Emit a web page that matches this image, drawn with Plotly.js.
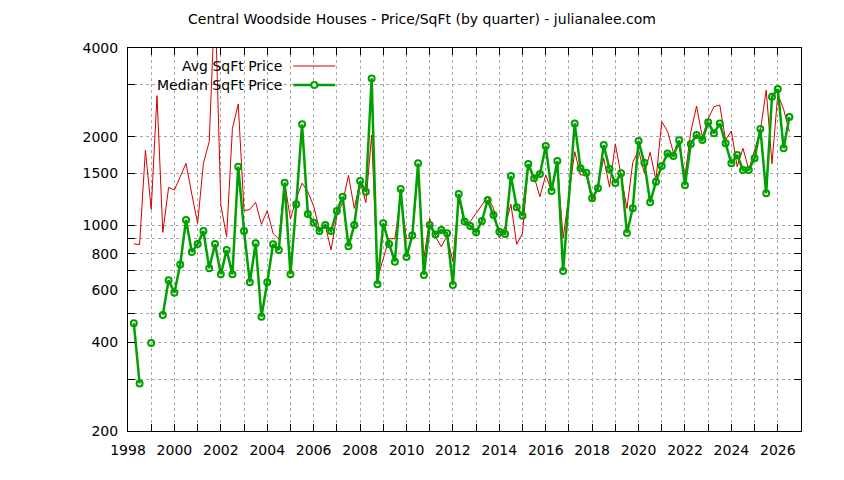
<!DOCTYPE html>
<html>
<head>
<meta charset="utf-8">
<script src="https://cdn.plot.ly/plotly-3.0.1.min.js"></script>
<style>
  html, body { margin: 0; padding: 0; background: #ffffff; }
  #chart { width: 844px; height: 480px; }
</style>
</head>
<body>
<div id="chart"></div>
<script>
// Quarterly data, Q1 1998 .. Q2 2026 (each quarter plotted at its end: Q1 -> year + 0.25)
const firstYear = 1998;
const quarterStep = 0.25;

// Average price per square foot (one value per quarter)
const avgPrice = [
  864, 860, 1801, 1132,      // 1998
  2755, 946, 1345, 1318,     // 1999
  1462, 1623, 1274, 1015,    // 2000
  1623, 1923, 6000, 1172,    // 2001
  914, 2134, 2581, 1121,     // 2002
  1131, 1196, 1007, 1120,    // 2003
  939, 896, 1395, 1050,      // 2004
  1230, 1390, 1300, 1160,    // 2005
  970, 1000, 824, 1077,      // 2006
  1195, 1477, 1141, 1406,    // 2007
  1195, 2025, 660, 775,      // 2008
  900, 900, 1250, 900,       // 2009
  905, 1521, 772, 1055,      // 2010
  914, 845, 922, 752,        // 2011
  1234, 1015, 1029, 1098,    // 2012
  1172, 1250, 1141, 903,     // 2013
  989, 1178, 861, 939,       // 2014
  1614, 1460, 1250, 1481,    // 2015
  1307, 1623, 903, null,     // 2016 (Q4: no row)
  1778, 1481, 1481, 1202,    // 2017
  1370, 1688, 1347, 1890,    // 2018
  1480, 1141, 1634, 1800,    // 2019
  1501, 1768, 1424, 2248,    // 2020
  2085, 1766, 1860, 1470,    // 2021
  2070, 2541, 1990, 2300,    // 2022
  2528, 2561, 1948, 2090,    // 2023
  1581, 1825, 1545, 1810,    // 2024
  2095, 2881, 1618, 2790,    // 2025
  2480, 2079                 // 2026
];

// Median price per square foot (null = no value that quarter)
const medianPrice = [
  465, 290, null, 398,       // 1998
  null, 496, 650, 590,       // 1999
  736, 1042, 811, 864,       // 2000
  956, 714, 864, 681,        // 2001
  824, 681, 1581, 956,       // 2002
  640, 868, 489, 640,        // 2003
  862, 824, 1395, 681,       // 2004
  1178, 2201, 1092, 1020,    // 2005
  956, 1002, 956, 1118,      // 2006
  1250, 848, 1002, 1413,     // 2007
  1300, 3154, 630, 1015,     // 2008
  864, 752, 1328, 780,       // 2009
  922, 1623, 678, 1002,      // 2010
  931, 963, 939, 627,        // 2011
  1277, 1029, 994, 946,      // 2012
  1034, 1218, 1084, 951,     // 2013
  934, 1470, 1150, 1078,     // 2014
  1614, 1443, 1493, 1859,    // 2015
  1307, 1653, 699, null,     // 2016 (Q4: no row)
  2218, 1561, 1509, 1234,    // 2017
  1335, 1874, 1551, 1392,    // 2018
  1503, 941, 1141, 1932,     // 2019
  1631, 1196, 1406, 1590,    // 2020
  1754, 1718, 1943, 1367,    // 2021
  1888, 2025, 1948, 2236,    // 2022
  2052, 2218, 1898, 1623,    // 2023
  1732, 1540, 1540, 1688,    // 2024
  2123, 1284, 2733, 2902,    // 2025
  1825, 2332                 // 2026
];

// Quarters that have no data row at all (the plotted lines run straight past them)
const quartersWithoutRow = ['2016 Q4'];

const xTickYears = [];
const xTickText = [];
for (let y = 1998; y <= 2027; y++) { xTickYears.push(y); xTickText.push(y % 2 === 0 && y <= 2026 ? String(y) : ''); }

const yTickVals = [200, 300, 400, 500, 600, 700, 800, 900, 1000, 1500, 2000, 3000, 4000];
const yTickText = ['200', '', '400', '', '600', '', '800', '', '1000', '1500', '2000', '', '4000'];

const seriesNames = ['Avg SqFt Price', 'Median SqFt Price'];
const titleText = 'Central Woodside Houses - Price/SqFt (by quarter) - julianalee.com';

const quarterLabel = i => (firstYear + Math.floor(i / 4)) + ' Q' + (i % 4 + 1);
const keep = avgPrice.map((_, i) => !quartersWithoutRow.includes(quarterLabel(i)));
const quarterX = avgPrice.map((_, i) => firstYear + quarterStep * (i + 1)).filter((_, i) => keep[i]);
const avgY = avgPrice.filter((_, i) => keep[i]);
const medY = medianPrice.filter((_, i) => keep[i]);

const redColor = '#d40000';
const greenColor = '#00a000';

const traces = [
  {
    x: quarterX, y: avgY, type: 'scatter', mode: 'lines', name: seriesNames[0],
    line: { color: redColor, width: 1 }, showlegend: false, connectgaps: false
  },
  {
    x: quarterX, y: medY, type: 'scatter', mode: 'lines+markers', name: seriesNames[1],
    line: { color: greenColor, width: 2.5 },
    marker: { symbol: 'circle-open', size: 6, color: greenColor, line: { width: 2, color: greenColor } },
    showlegend: false, connectgaps: false, cliponaxis: true
  }
];

const fontFamily = '"DejaVu Sans", Verdana, sans-serif';
const L = 127.6, R = 801, T = 48, B = 431;
const px2x = p => (p - L) / (R - L);
const px2y = p => (B - p) / (B - T);

const layout = {
  width: 844, height: 480,
  margin: { l: L, r: 844 - R, t: T, b: 480 - B, pad: 0 },
  paper_bgcolor: '#ffffff', plot_bgcolor: '#ffffff',
  font: { family: fontFamily, size: 14, color: '#000000' },
  title: { text: titleText, x: 0.5, xref: 'container', xanchor: 'center', y: 1 - 19 / 480, yref: 'container', yanchor: 'middle',
           font: { family: fontFamily, size: 14, color: '#000000' } },
  showlegend: false,
  xaxis: {
    range: [1998, 2027], tickmode: 'array', tickvals: xTickYears, ticktext: xTickText,
    ticks: 'inside', ticklen: 7, tickcolor: '#000000', tickwidth: 1,
    showline: true, linecolor: '#000000', linewidth: 1, mirror: 'ticks',
    showgrid: true, gridcolor: '#a8a8a8', griddash: 'dot', gridwidth: 1,
    zeroline: false, tickfont: { size: 14 }, ticklabelstandoff: 6
  },
  yaxis: {
    type: 'log', range: [Math.log10(200), Math.log10(4000)],
    tickmode: 'array', tickvals: yTickVals, ticktext: yTickText,
    ticks: 'inside', ticklen: 7, tickcolor: '#000000', tickwidth: 1,
    showline: true, linecolor: '#000000', linewidth: 1, mirror: 'ticks',
    showgrid: true, gridcolor: '#a8a8a8', griddash: 'dot', gridwidth: 1,
    zeroline: false, tickfont: { size: 14 }, ticklabelstandoff: 6
  },
  annotations: [
    { text: seriesNames[0], xref: 'paper', yref: 'paper', x: px2x(284), y: px2y(66), xanchor: 'right', yanchor: 'middle', showarrow: false, font: { size: 14 } },
    { text: seriesNames[1], xref: 'paper', yref: 'paper', x: px2x(284), y: px2y(85), xanchor: 'right', yanchor: 'middle', showarrow: false, font: { size: 14 } }
  ],
  shapes: [
    { type: 'line', xref: 'paper', yref: 'paper', x0: px2x(293), x1: px2x(335), y0: px2y(66), y1: px2y(66), line: { color: redColor, width: 1 } },
    { type: 'line', xref: 'paper', yref: 'paper', x0: px2x(293), x1: px2x(335), y0: px2y(85), y1: px2y(85), line: { color: greenColor, width: 2.5 } },
    { type: 'circle', xref: 'paper', yref: 'paper', xsizemode: 'pixel', ysizemode: 'pixel', xanchor: px2x(314), yanchor: px2y(85),
      x0: -3, x1: 3, y0: -3, y1: 3, line: { color: greenColor, width: 2 }, fillcolor: '#ffffff' }
  ]
};

Plotly.newPlot('chart', traces, layout, { displayModeBar: false, staticPlot: true });
</script>
</body>
</html>
